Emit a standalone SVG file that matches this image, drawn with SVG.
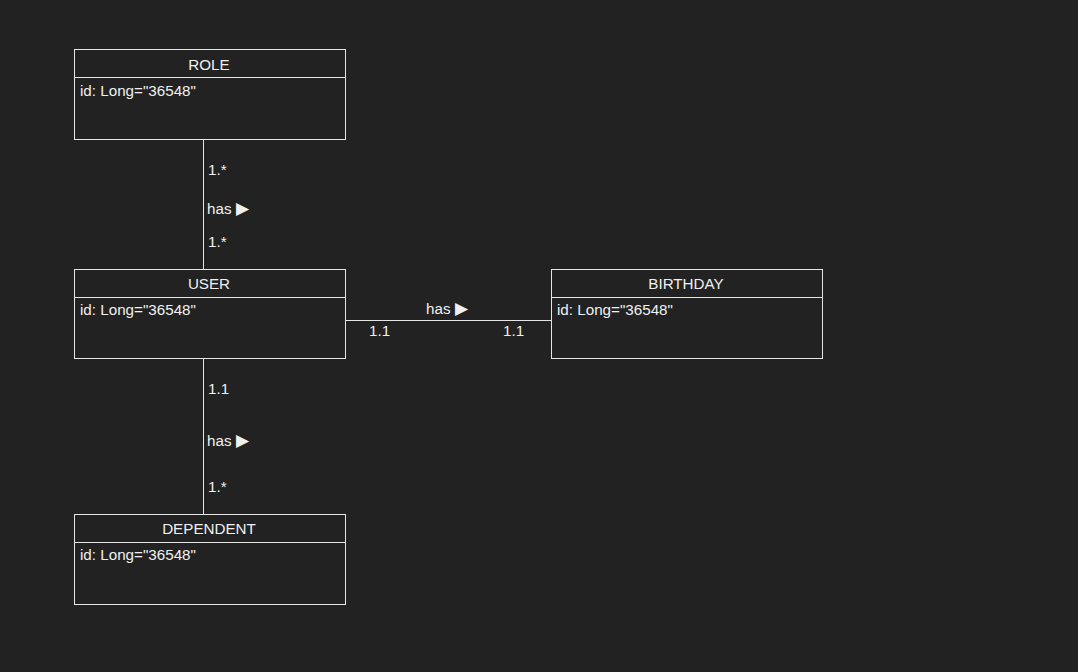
<svg xmlns="http://www.w3.org/2000/svg" width="1078" height="672" viewBox="0 0 1078 672">
<style>
.box{fill:#222222;stroke:#e6e6e6;stroke-width:1}
.t{font-family:"Liberation Sans",Arial,sans-serif;font-size:15.2px;fill:#f0f0f0}
.c{text-anchor:middle}
.ln{stroke:#e6e6e6;stroke-width:1;fill:none}
.tri{font-size:17px}
</style>
<rect x="0" y="0" width="1078" height="672" fill="#222222"/>
<g id="connectors">
<line class="ln" x1="203.5" y1="139.5" x2="203.5" y2="269.5"/>
<line class="ln" x1="345.5" y1="320.5" x2="551.5" y2="320.5"/>
<line class="ln" x1="203.5" y1="358.5" x2="203.5" y2="514.5"/>
<text class="t" x="208" y="175">1.*</text>
<text class="t" x="207" y="214">has <tspan class="tri">▶</tspan></text>
<text class="t" x="208" y="247">1.*</text>
<text class="t" x="426" y="314">has <tspan class="tri">▶</tspan></text>
<text class="t" x="369" y="336">1.1</text>
<text class="t" x="503" y="336">1.1</text>
<text class="t" x="208" y="394">1.1</text>
<text class="t" x="207" y="446">has <tspan class="tri">▶</tspan></text>
<text class="t" x="208" y="492">1.*</text>
</g>
<g id="role">
<rect class="box" x="74.5" y="49.5" width="271" height="90"/>
<line class="ln" x1="74.5" y1="77.5" x2="345.5" y2="77.5"/>
<text class="t c" x="209" y="70">ROLE</text>
<text class="t" x="80" y="96">id: Long="36548"</text>
</g>
<g id="user">
<rect class="box" x="74.5" y="269.5" width="271" height="89"/>
<line class="ln" x1="74.5" y1="297.5" x2="345.5" y2="297.5"/>
<text class="t c" x="209" y="289">USER</text>
<text class="t" x="80" y="315">id: Long="36548"</text>
</g>
<g id="birthday">
<rect class="box" x="551.5" y="269.5" width="271" height="89"/>
<line class="ln" x1="551.5" y1="297.5" x2="822.5" y2="297.5"/>
<text class="t c" x="686" y="289">BIRTHDAY</text>
<text class="t" x="557" y="315">id: Long="36548"</text>
</g>
<g id="dependent">
<rect class="box" x="74.5" y="514.5" width="271" height="90"/>
<line class="ln" x1="74.5" y1="542.5" x2="345.5" y2="542.5"/>
<text class="t c" x="209" y="534">DEPENDENT</text>
<text class="t" x="80" y="560">id: Long="36548"</text>
</g>
</svg>
